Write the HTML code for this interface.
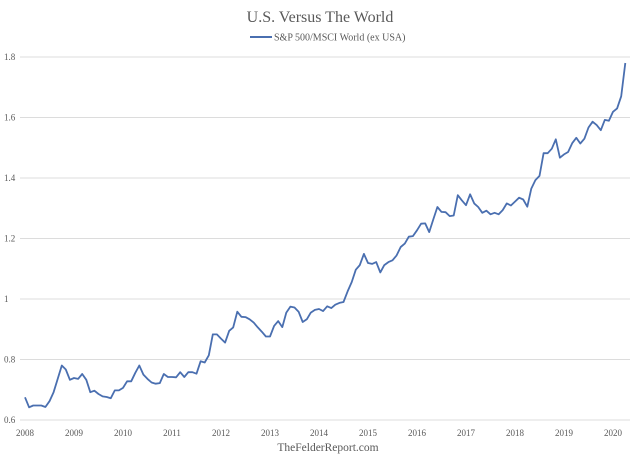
<!DOCTYPE html>
<html><head><meta charset="utf-8"><style>
html,body{margin:0;padding:0;background:#fff;}
svg{display:block;font-family:"Liberation Serif",serif;}
</style></head><body>
<svg id="chart" width="640" height="464">
<text x="320" y="22" text-anchor="middle" font-size="16" fill="#595959">U.S. Versus The World</text>
<g>
<line x1="250" y1="37" x2="272" y2="37" stroke="#4a6fb0" stroke-width="2"/>
<text x="274" y="40.5" font-size="10" fill="#595959">S&amp;P 500/MSCI World (ex USA)</text>
</g>
<g id="grid"></g><g id="ylab"></g><g id="xlab"></g>
<path id="line" fill="none" stroke="#4a6fb0" stroke-width="1.8" stroke-linejoin="round"/>
<text x="328" y="451" text-anchor="middle" font-size="11.5" fill="#595959">TheFelderReport.com</text>
</svg>
<script>
const yTicks=[0.6,0.8,1,1.2,1.4,1.6,1.8];
const yTickLabels=["0.6","0.8","1","1.2","1.4","1.6","1.8"];
const xYears=[2008,2009,2010,2011,2012,2013,2014,2015,2016,2017,2018,2019,2020];
const startYear=2008;
const values=[0.675,0.642,0.648,0.648,0.648,0.643,0.662,0.692,0.736,0.78,0.767,0.733,0.739,0.736,0.752,0.733,0.692,0.697,0.686,0.678,0.676,0.672,0.698,0.698,0.706,0.728,0.728,0.756,0.78,0.75,0.736,0.724,0.72,0.722,0.752,0.742,0.742,0.741,0.758,0.742,0.758,0.758,0.753,0.794,0.79,
0.814,0.883,0.883,0.869,0.856,0.895,0.906,0.958,0.941,0.94,0.933,0.922,0.906,0.892,0.876,0.876,0.911,0.927,0.907,0.955,0.975,0.972,0.958,0.924,0.933,0.955,0.964,
0.967,0.96,0.976,0.97,0.981,0.987,0.99,1.025,1.056,1.097,1.112,1.149,1.119,1.116,1.122,1.088,1.112,1.122,1.128,1.144,1.172,1.183,1.206,1.208,1.227,1.249,1.25,1.221,1.263,1.304,1.288,1.287,1.274,1.276,1.343,1.326,1.31,1.346,1.316,1.304,1.285,1.292,1.28,1.285,1.28,1.294,1.316,1.309,1.322,1.335,1.329,1.305,1.365,1.393,1.407,1.482,1.482,1.497,1.528,1.467,1.478,1.486,1.515,1.533,1.514,1.53,1.567,1.586,1.575,1.558,1.592,1.589,1.619,1.63,1.67,1.78];
const NS="http://www.w3.org/2000/svg";
const x=m=>25+m*(588/144);
const y=v=>420-(v-0.6)*302.5;
const grid=document.getElementById('grid'),ylab=document.getElementById('ylab'),xlab=document.getElementById('xlab');
yTicks.forEach((t,i)=>{
 const l=document.createElementNS(NS,'line');
 l.setAttribute('x1',20);l.setAttribute('x2',630);l.setAttribute('y1',y(t));l.setAttribute('y2',y(t));
 l.setAttribute('stroke','#dcdcdc');l.setAttribute('stroke-width','1');
 
 
 grid.appendChild(l);
 const tx=document.createElementNS(NS,'text');
 tx.setAttribute('x',4);tx.setAttribute('y',y(t)+3);tx.setAttribute('font-size','9');tx.setAttribute('fill','#595959');
 tx.textContent=yTickLabels[i];
 
 
 ylab.appendChild(tx);
});
xYears.forEach(yr=>{
 const tx=document.createElementNS(NS,'text');
 tx.setAttribute('x',x((yr-startYear)*12));tx.setAttribute('y',436);tx.setAttribute('font-size','9');tx.setAttribute('fill','#595959');tx.setAttribute('text-anchor','middle');
 tx.textContent=yr;
 
 
 xlab.appendChild(tx);
});
document.getElementById('line').setAttribute('d',values.map((v,i)=>(i?'L':'M')+x(i).toFixed(1)+','+y(v).toFixed(1)).join(''));
</script>
</body></html>
